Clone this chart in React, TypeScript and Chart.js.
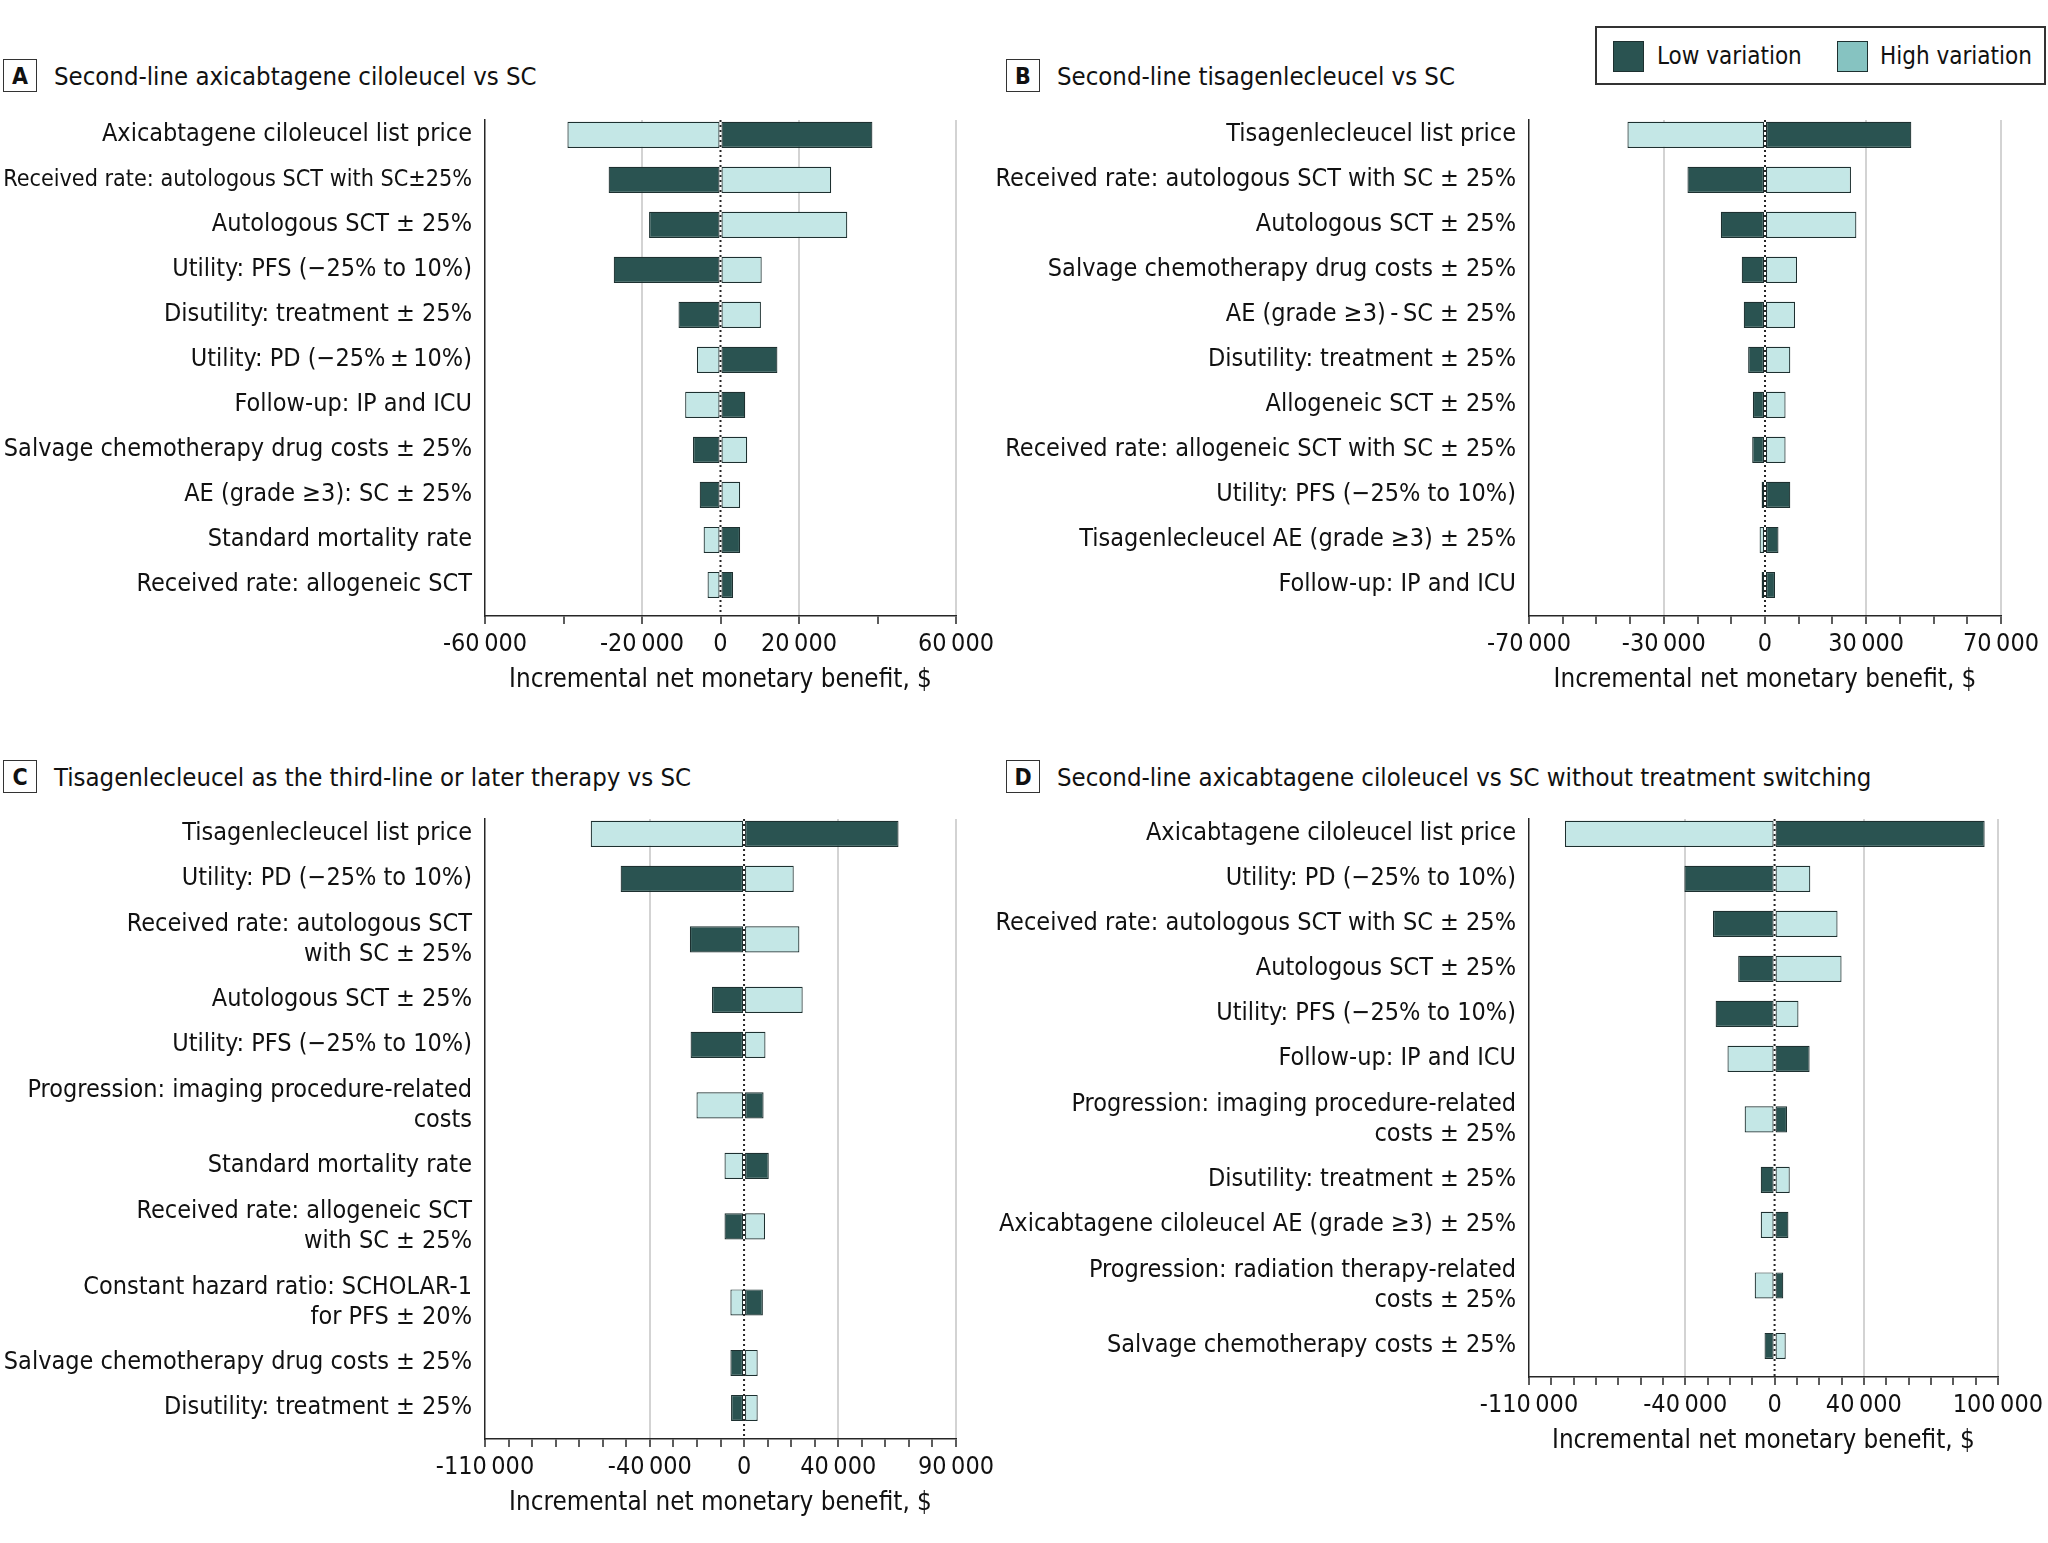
import React, { useEffect, useRef } from "react";
import { Chart, registerables } from "chart.js";

Chart.register(...registerables);

// ---------- DATA ----------
const labelsA = [
  "Axicabtagene ciloleucel list price",
  "Received rate: autologous SCT with SC±25%",
  "Autologous SCT ± 25%",
  "Utility: PFS (−25% to 10%)",
  "Disutility: treatment ± 25%",
  "Utility: PD (−25%\u2009±\u200910%)",
  "Follow-up: IP and ICU",
  "Salvage chemotherapy drug costs ± 25%",
  "AE (grade ≥3): SC ± 25%",
  "Standard mortality rate",
  "Received rate: allogeneic SCT",
];
const lowA = [38700, -28500, -18200, -27200, -10700, 14500, 6300, -7000, -5300, 5000, 3200];
const highA = [-39000, 28200, 32300, 10500, 10300, -6000, -9000, 6800, 5000, -4300, -3300];
const ticksA = [-60000, -20000, 0, 20000, 60000];
const gridA = [-20000, 20000, 60000];

const labelsB = [
  "Tisagenlecleucel list price",
  "Received rate: autologous SCT with SC ± 25%",
  "Autologous SCT ± 25%",
  "Salvage chemotherapy drug costs ± 25%",
  "AE (grade ≥3)\u2009-\u2009SC ± 25%",
  "Disutility: treatment ± 25%",
  "Allogeneic SCT ± 25%",
  "Received rate: allogeneic SCT with SC ± 25%",
  "Utility: PFS (−25% to 10%)",
  "Tisagenlecleucel AE (grade ≥3) ± 25%",
  "Follow-up: IP and ICU",
];
const lowB = [43400, -23000, -13100, -6900, -6300, -5000, -3600, -3800, 7500, 4000, 3000];
const highB = [-40800, 25500, 27100, 9500, 8900, 7500, 6100, 6100, -1000, -1600, -1000];
const ticksB = [-70000, -30000, 0, 30000, 70000];
const gridB = [-30000, 30000, 70000];

const labelsC = [
  "Tisagenlecleucel list price",
  "Utility: PD (−25% to 10%)",
  ["Received rate: autologous SCT", "with SC ± 25%"],
  "Autologous SCT ± 25%",
  "Utility: PFS (−25% to 10%)",
  ["Progression: imaging procedure-related", "costs"],
  "Standard mortality rate",
  ["Received rate: allogeneic SCT", "with SC ± 25%"],
  ["Constant hazard ratio: SCHOLAR-1", "for PFS ± 20%"],
  "Salvage chemotherapy drug costs ± 25%",
  "Disutility: treatment ± 25%",
];
const lowC = [65600, -52400, -23000, -13600, -22700, 8300, 10500, -8300, 8000, -5800, -5500];
const highC = [-65100, 21100, 23500, 24900, 9100, -20200, -8300, 8900, -5800, 5800, 5800];
const ticksC = [-110000, -40000, 0, 40000, 90000];
const gridC = [-40000, 40000, 90000];

const labelsD = [
  "Axicabtagene ciloleucel list price",
  "Utility: PD (−25% to 10%)",
  "Received rate: autologous SCT with SC ± 25%",
  "Autologous SCT ± 25%",
  "Utility: PFS (−25% to 10%)",
  "Follow-up: IP and ICU",
  ["Progression: imaging procedure-related", "costs ± 25%"],
  "Disutility: treatment ± 25%",
  "Axicabtagene ciloleucel AE (grade ≥3) ± 25%",
  ["Progression: radiation therapy-related", "costs ± 25%"],
  "Salvage chemotherapy costs ± 25%",
];
const lowD = [94100, -40400, -27600, -16300, -26400, 15700, 5600, -6200, 6200, 3900, -4500];
const highD = [-93900, 16000, 28200, 30000, 10700, -21100, -13400, 6800, -6200, -8900, 5000];
const ticksD = [-110000, -40000, 0, 40000, 100000];
const gridD = [-40000, 40000, 100000];

const titles = [
  "Second-line axicabtagene ciloleucel vs SC",
  "Second-line tisagenlecleucel vs SC",
  "Tisagenlecleucel as the third-line or later therapy vs SC",
  "Second-line axicabtagene ciloleucel vs SC without treatment switching",
];
const letters = ["A", "B", "C", "D"];
const seriesNames = ["Low variation", "High variation"];
const xTitle = "Incremental net monetary benefit, $";

// ---------- STYLE ----------
const FONT = '"DejaVu Sans Condensed", "Liberation Sans Narrow", "DejaVu Sans", sans-serif';
const DARK = "#2a5351";
const LIGHT = "#c4e7e6";
const LEGEND_LIGHT = "#86c3c1";
const EDGE = "#1d3030";
const AXIS = "#262626";
const GRID = "#d3d3d3";
const ROW = 45; // px per single-line row
const DOUBLE = 1.69; // height of a two-line row in row units
const PAD_TOP = 34;
const X_AXIS_H = 95;
const LABEL_SIZE = 25;
const LABEL_PAD = 13;

let measureCtx: CanvasRenderingContext2D | null = null;
function textWidth(text: string, size: number): number {
  if (!measureCtx) measureCtx = document.createElement("canvas").getContext("2d");
  if (!measureCtx) return 0;
  measureCtx.font = `${size}px ${FONT}`;
  return measureCtx.measureText(text).width;
}

function fmt(v: number): string {
  if (v === 0) return "0";
  const s = Math.abs(v).toString();
  const body = s.length > 3 ? s.slice(0, s.length - 3) + "\u2009" + s.slice(s.length - 3) : s;
  return (v < 0 ? "-" : "") + body;
}

function rowPositions(labels: (string | string[])[]): number[] {
  const h = labels.map((l) => (Array.isArray(l) ? DOUBLE : 1));
  const pos = [0];
  for (let i = 1; i < h.length; i++) pos.push(pos[i - 1] + (h[i - 1] + h[i]) / 2);
  return pos;
}

const zeroLine = {
  id: "zeroLine",
  beforeDatasetsDraw(chart: any) {
    const { ctx, chartArea } = chart;
    const x = chart.scales.x.getPixelForValue(0);
    ctx.save();
    ctx.setLineDash([2, 3]);
    ctx.lineWidth = 2;
    ctx.strokeStyle = AXIS;
    ctx.beginPath();
    ctx.moveTo(x, chartArea.top);
    ctx.lineTo(x, chartArea.bottom);
    ctx.stroke();
    ctx.restore();
  },
};

type PanelProps = {
  labels: (string | string[])[];
  low: number[];
  high: number[];
  min: number;
  max: number;
  step: number;
  shown: number[];
  grid: number[];
  left: number;
  chartTop: number;
  width: number;
  yWidth: number;
  padRight: number;
};

function Panel(p: PanelProps) {
  const ref = useRef<HTMLCanvasElement | null>(null);
  const pos = rowPositions(p.labels);
  const yMin = -0.33;
  const yMax = pos[pos.length - 1] + 0.69;
  const areaH = (yMax - yMin) * ROW;
  const height = Math.round(PAD_TOP + areaH + X_AXIS_H);

  useEffect(() => {
    if (!ref.current) return;
    const avail = p.yWidth - LABEL_PAD - 3;
    const fontFor = (i: number) => {
      const l = p.labels[i];
      const lines = Array.isArray(l) ? l : [l ?? ""];
      const w = Math.max(...lines.map((t) => textWidth(t, LABEL_SIZE)));
      const size = w > avail ? (LABEL_SIZE * avail) / w : LABEL_SIZE;
      return { family: FONT, size, lineHeight: 30 / size };
    };
    const common = {
      borderColor: EDGE,
      borderWidth: 1.2,
      borderSkipped: false,
      grouped: false,
      categoryPercentage: 1,
      barPercentage: 0.58,
    };
    const chart = new Chart(ref.current, {
      type: "bar",
      data: {
        datasets: [
          {
            label: seriesNames[0],
            data: p.low.map((v, i) => ({ x: [0, v], y: pos[i] })) as any,
            backgroundColor: DARK,
            ...common,
          } as any,
          {
            label: seriesNames[1],
            data: p.high.map((v, i) => ({ x: [0, v], y: pos[i] })) as any,
            backgroundColor: LIGHT,
            ...common,
          } as any,
        ],
      },
      options: {
        indexAxis: "y",
        animation: false,
        responsive: false,
        maintainAspectRatio: false,
        layout: { padding: { top: PAD_TOP, left: 0, right: p.padRight, bottom: 0 } },
        plugins: { legend: { display: false }, tooltip: { enabled: false }, title: { display: false } },
        scales: {
          x: {
            type: "linear",
            min: p.min,
            max: p.max,
            afterFit: (s: any) => {
              s.height = X_AXIS_H;
            },
            ticks: {
              stepSize: p.step,
              autoSkip: false,
              maxRotation: 0,
              padding: 5,
              color: "#111",
              font: { family: FONT, size: 25 },
              callback: (v: any) => (p.shown.includes(Math.round(Number(v))) ? fmt(Number(v)) : ""),
            },
            grid: {
              color: (c: any) => (c.tick && p.grid.includes(Math.round(c.tick.value)) ? GRID : "rgba(0,0,0,0)"),
              lineWidth: 2,
              tickColor: AXIS,
              tickLength: 8,
              tickWidth: 1.5,
              drawOnChartArea: true,
              drawTicks: true,
            },
            border: { display: true, color: AXIS, width: 1.5 },
            title: {
              display: true,
              text: xTitle,
              color: "#111",
              font: { family: FONT, size: 25.8 },
              padding: { top: 0, bottom: 15 },
            },
          },
          y: {
            type: "linear",
            reverse: true,
            offset: false,
            min: yMin,
            max: yMax,
            afterFit: (s: any) => {
              s.width = p.yWidth;
            },
            afterBuildTicks: (s: any) => {
              s.ticks = pos.map((v) => ({ value: v }));
            },
            ticks: {
              autoSkip: false,
              padding: LABEL_PAD,
              color: "#111",
              font: (c: any) => fontFor(c.index),
              callback: (v: any) => {
                const i = pos.findIndex((q) => Math.abs(q - Number(v)) < 1e-6);
                return i >= 0 ? (p.labels[i] as any) : "";
              },
            },
            grid: { display: false, drawTicks: false, offset: false },
            border: { display: true, color: AXIS, width: 1.5 },
          },
        },
      },
      plugins: [zeroLine],
    });
    return () => chart.destroy();
  }, []);

  return (
    <canvas
      ref={ref}
      width={p.width}
      height={height}
      style={{ position: "absolute", left: p.left, top: p.chartTop - PAD_TOP, width: p.width, height }}
    />
  );
}

const textStyle: React.CSSProperties = { fontFamily: FONT, color: "#111", position: "absolute", whiteSpace: "nowrap" };

function PanelTitle({ letter, text, left, top }: { letter: string; text: string; left: number; top: number }) {
  return (
    <>
      <div
        style={{
          ...textStyle,
          left,
          top,
          width: 34,
          height: 33,
          boxSizing: "border-box",
          border: "1.5px solid #333",
          display: "flex",
          alignItems: "center",
          justifyContent: "center",
          fontWeight: "bold",
          fontSize: 23,
        }}
      >
        {letter}
      </div>
      <div style={{ ...textStyle, left: left + 51, top: top + 1, height: 32, lineHeight: "32px", fontSize: 25.5 }}>{text}</div>
    </>
  );
}

function Legend() {
  return (
    <div
      style={{
        position: "absolute",
        left: 1595,
        top: 26,
        width: 451,
        height: 59,
        boxSizing: "border-box",
        border: "2px solid #333",
      }}
    >
      <div style={{ position: "absolute", left: 16, top: 13, width: 31, height: 31, boxSizing: "border-box", border: "1.5px solid #1d3030", background: DARK }} />
      <div style={{ ...textStyle, left: 60, top: 10, lineHeight: "36px", fontSize: 24 }}>{seriesNames[0]}</div>
      <div style={{ position: "absolute", left: 240, top: 13, width: 31, height: 31, boxSizing: "border-box", border: "1.5px solid #1d3030", background: LEGEND_LIGHT }} />
      <div style={{ ...textStyle, left: 283, top: 10, lineHeight: "36px", fontSize: 24 }}>{seriesNames[1]}</div>
    </div>
  );
}

export default function App() {
  return (
    <div style={{ position: "absolute", left: 0, top: 0, width: 2048, height: 1543, background: "#fff", overflow: "hidden" }}>
      <PanelTitle letter={letters[0]} text={titles[0]} left={3} top={59} />
      <PanelTitle letter={letters[1]} text={titles[1]} left={1006} top={59} />
      <PanelTitle letter={letters[2]} text={titles[2]} left={3} top={760} />
      <PanelTitle letter={letters[3]} text={titles[3]} left={1006} top={760} />
      <Legend />
      <Panel labels={labelsA} low={lowA} high={highA} min={-60000} max={60000} step={20000} shown={ticksA} grid={gridA}
        left={0} chartTop={120} width={1010} yWidth={485} padRight={54} />
      <Panel labels={labelsB} low={lowB} high={highB} min={-70000} max={70000} step={10000} shown={ticksB} grid={gridB}
        left={990} chartTop={120} width={1058} yWidth={539} padRight={47} />
      <Panel labels={labelsC} low={lowC} high={highC} min={-110000} max={90000} step={10000} shown={ticksC} grid={gridC}
        left={0} chartTop={819} width={1010} yWidth={485} padRight={54} />
      <Panel labels={labelsD} low={lowD} high={highD} min={-110000} max={100000} step={10000} shown={ticksD} grid={gridD}
        left={990} chartTop={819} width={1058} yWidth={539} padRight={47} />
    </div>
  );
}
